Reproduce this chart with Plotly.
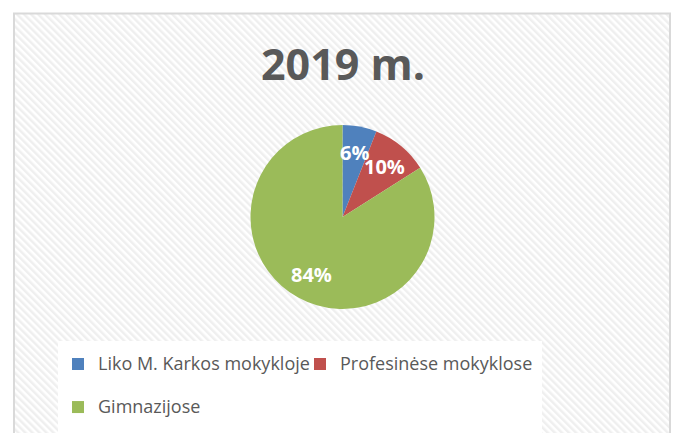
import math
import plotly.graph_objects as go

labels = ["Liko M. Karkos mokykloje", "Profesinėse mokyklose", "Gimnazijose"]
values = [6, 10, 84]
colors = ["#4f81bd", "#c0504d", "#9bbb59"]
title_text = "2019 m."

W, H = 676, 433
CX, CY, R = 342.5, 217, 92  # pie centre/radius in pixels (layout)

svg = ("data:image/svg+xml;utf8,<svg xmlns='http://www.w3.org/2000/svg' width='656' height='430'>"
       "<defs><pattern id='p' width='5' height='5' patternUnits='userSpaceOnUse' patternTransform='rotate(-45)'>"
       "<rect width='2.5' height='5' fill='%23efefef'/></pattern></defs>"
       "<rect width='100%25' height='100%25' fill='white'/>"
       "<rect width='100%25' height='100%25' fill='url(%23p)'/></svg>")

legend_labels = ["<span style='font-size:18px'>" + l + "</span><br> " for l in labels]

fig = go.Figure(go.Pie(
    labels=legend_labels, values=values, sort=False, direction="clockwise", rotation=0,
    marker=dict(colors=colors, line=dict(width=0)),
    textinfo="none",
    domain=dict(x=[(CX-R)/W, (CX+R)/W], y=[(H-CY-R)/H, (H-CY+R)/H]),
    customdata=labels, hovertemplate="%{customdata}: %{percent}<extra></extra>",
))

# percentage labels placed at slice mid-angles derived from the values
total = sum(values)
annotations = []
cum = 0
for v in values:
    mid = (cum + v / 2) / total * 2 * math.pi
    cum += v
    r = 0.71 * R
    px = CX + r * math.sin(mid)
    py = CY - r * math.cos(mid)
    annotations.append(dict(
        text="<b>%d%%</b>" % round(100 * v / total), x=px / W, y=1 - py / H,
        xref="paper", yref="paper", showarrow=False, xanchor="center", yanchor="middle",
        font=dict(family="Open Sans", size=20, color="white")))

fig.update_layout(
    width=W, height=H, margin=dict(l=0, r=0, t=0, b=0, autoexpand=False),
    paper_bgcolor="white",
    title=dict(text="<b>" + title_text + "</b>", x=343/W, xanchor="center", y=1-65/H, yanchor="middle",
               font=dict(family="Open Sans", size=43, color="#595959")),
    showlegend=True,
    legend=dict(orientation="h", x=58/W, xanchor="left", y=1-341/H, yanchor="top",
                bgcolor="white", font=dict(family="Open Sans", size=15.4, color="#595959"),
                title=dict(text=" ", side="top", font=dict(size=5)),
                itemwidth=30, traceorder="normal", entrywidth=197, valign="top"),
    annotations=annotations,
    images=[dict(source=svg, xref="paper", yref="paper", x=15/W, y=1-14/H, sizex=655/W, sizey=430/H,
                 xanchor="left", yanchor="top", sizing="stretch", layer="below")],
    shapes=[dict(type="rect", xref="paper", yref="paper", x0=14/W, x1=670/W, y0=-0.1, y1=1-13.5/H,
                 line=dict(color="#d9d9d9", width=2), fillcolor="rgba(0,0,0,0)", layer="above")],
)

fig.write_html("out.html", config={"displayModeBar": False},
               post_script="document.body.style.margin='0px';")
